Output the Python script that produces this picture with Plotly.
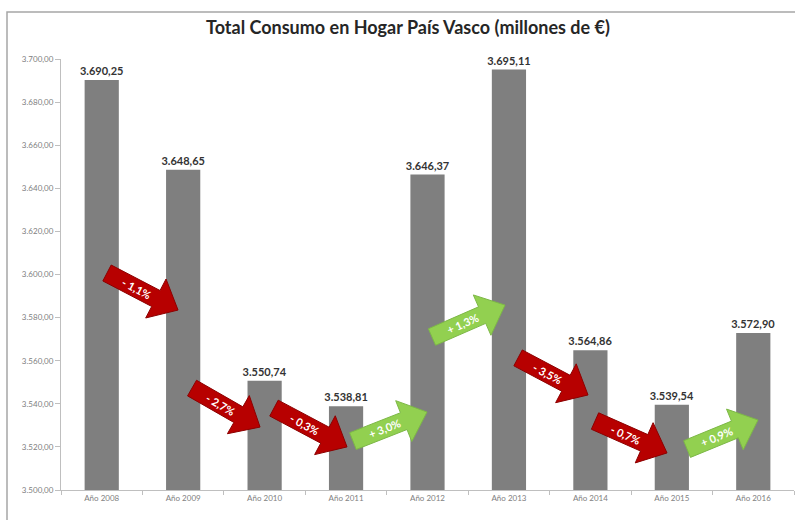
import math
import plotly.graph_objects as go

# ---- data -------------------------------------------------------------
years = ["Año 2008", "Año 2009", "Año 2010", "Año 2011", "Año 2012",
         "Año 2013", "Año 2014", "Año 2015", "Año 2016"]
consumo = [3690.25, 3648.65, 3550.74, 3538.81, 3646.37,
           3695.11, 3564.86, 3539.54, 3572.90]
y_ticks = [3500, 3520, 3540, 3560, 3580, 3600, 3620, 3640, 3660, 3680, 3700]

# arrow anchors between consecutive years: (category position, value)
arrow_tail = [(0.065, 3600.7), (1.109, 3547.3), (2.115, 3538.0), (3.085, 3522.7),
              (4.055, 3571.0), (5.112, 3561.3), (6.057, 3532.0), (7.187, 3519.0)]
arrow_tip = [(0.937, 3583.5), (1.944, 3529.2), (3.012, 3520.0), (3.994, 3536.2),
             (4.952, 3585.8), (5.971, 3544.1), (6.941, 3517.2), (8.058, 3532.5)]

# ---- geometry of the plotting area ------------------------------------
WIDTH, HEIGHT = 795, 520
M_L, M_R, M_T, M_B = 61, 1, 59, 30
PLOT_W = WIDTH - M_L - M_R
PLOT_H = HEIGHT - M_T - M_B
Y_MIN, Y_MAX = 3500, 3700
X_MIN, X_MAX = -0.5, len(years) - 0.5
PX_X = PLOT_W / (X_MAX - X_MIN)      # pixels per category
PX_Y = PLOT_H / (Y_MAX - Y_MIN)      # pixels per unit of value

RED, RED_EDGE = "#b70000", "#8c0000"
GREEN, GREEN_EDGE = "#92d050", "#7db847"
BAR = "#7f7f7f"
FONT = "Lato"


def to_px(p):
    return p[0] * PX_X, -p[1] * PX_Y


def to_data(p):
    return p[0] / PX_X, -p[1] / PX_Y


def block_arrow(tail, tip, body=9.0, head=22.0, head_len=25.0):
    """Block arrow polygon (data units) drawn with pixel proportions,
    plus the spot and angle for its label."""
    tx, ty = to_px(tail)
    px, py = to_px(tip)
    dx, dy = px - tx, py - ty
    length = math.hypot(dx, dy)
    ux, uy = dx / length, dy / length
    nx, ny = -uy, ux
    bx, by = px - ux * head_len, py - uy * head_len
    pts = [
        (tx + nx * body, ty + ny * body),
        (bx + nx * body, by + ny * body),
        (bx + nx * head, by + ny * head),
        (px, py),
        (bx - nx * head, by - ny * head),
        (bx - nx * body, by - ny * body),
        (tx - nx * body, ty - ny * body),
    ]
    d = [to_data(p) for p in pts]
    path = "M " + " L ".join(f"{x:.4f},{y:.4f}" for x, y in d) + " Z"
    label_pos = to_data((tx + dx * 0.42, ty + dy * 0.42))
    angle = math.degrees(math.atan2(dy, dx))  # y grows downward -> clockwise
    return path, label_pos, angle


def es_number(v):
    return f"{v:,.2f}".replace(",", "X").replace(".", ",").replace("X", ".")


x_pos = list(range(len(years)))

fig = go.Figure()
fig.add_trace(go.Bar(
    x=x_pos,
    y=[v - Y_MIN for v in consumo],
    base=Y_MIN,
    width=0.42,
    marker=dict(color=BAR, line=dict(width=0)),
    text=[es_number(v) for v in consumo],
    textposition="outside",
    constraintext="none",
    textfont=dict(family=FONT, size=11, color="#333333", weight="bold"),
    cliponaxis=False,
    hoverinfo="skip",
))

shapes = []
annotations = []
for i in range(len(consumo) - 1):
    change = (consumo[i + 1] / consumo[i] - 1) * 100
    sign = "+" if change > 0 else "-"
    label = f"{sign} {abs(change):.1f}%".replace(".", ",")
    path, (lx, ly), angle = block_arrow(arrow_tail[i], arrow_tip[i])
    fill, edge = (GREEN, GREEN_EDGE) if change > 0 else (RED, RED_EDGE)
    shapes.append(dict(type="path", path=path, xref="x", yref="y",
                       fillcolor=fill, line=dict(color=edge, width=1),
                       layer="above"))
    annotations.append(dict(x=lx, y=ly, xref="x", yref="y", text=label,
                            showarrow=False, textangle=angle,
                            font=dict(family=FONT, size=11, color="white",
                                      weight="bold")))

# frame lines on the left and top of the chart
fx = lambda px: (px - M_L) / PLOT_W
fy = lambda py: (HEIGHT - M_B - py) / PLOT_H
shapes.append(dict(type="path", xref="paper", yref="paper",
                   path=f"M {fx(7)},{fy(520)} L {fx(7)},{fy(12)} L {fx(795)},{fy(12)}",
                   line=dict(color="#a6a6a6", width=1.5), layer="below"))

fig.update_layout(
    width=WIDTH, height=HEIGHT,
    margin=dict(l=M_L, r=M_R, t=M_T, b=M_B),
    paper_bgcolor="white", plot_bgcolor="white",
    separators=",.",
    showlegend=False,
    title=dict(text="<b>Total Consumo en Hogar País Vasco (millones de €)</b>",
               x=408 / WIDTH, xanchor="center", xref="container",
               y=1 - 28 / HEIGHT, yanchor="middle", yref="container",
               font=dict(family=FONT, size=18, color="#262626")),
    xaxis=dict(range=[X_MIN, X_MAX], tickmode="array", tickvals=x_pos,
               ticktext=years, ticks="", showgrid=False, zeroline=False,
               showline=True, linecolor="#bfbfbf", linewidth=1,
               tickfont=dict(family=FONT, size=8, color="#808080"),
               minor=dict(tickmode="array",
                          tickvals=[p + 0.5 for p in [-1] + x_pos],
                          ticks="outside", ticklen=4, tickcolor="#bfbfbf",
                          showgrid=False)),
    yaxis=dict(range=[Y_MIN, Y_MAX], tickmode="array", tickvals=y_ticks,
               tickformat=",.2f", ticks="outside", ticklen=5,
               tickcolor="#bfbfbf", showgrid=False, zeroline=False,
               showline=True, linecolor="#bfbfbf", linewidth=1,
               tickfont=dict(family=FONT, size=8, color="#808080")),
    shapes=shapes,
    annotations=annotations,
)

fig.write_html("out.html")
